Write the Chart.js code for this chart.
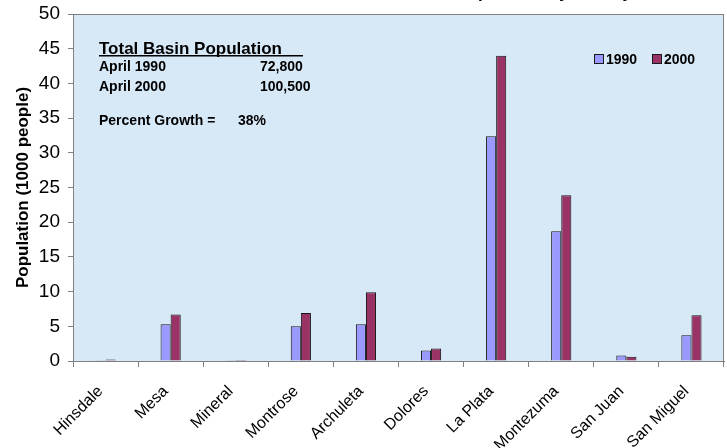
<!DOCTYPE html>
<html>
<head>
<meta charset="utf-8">
<title>Southwest Basin Population by County</title>
<script src="https://cdn.jsdelivr.net/npm/chart.js@4"></script>
<style>
    html, body { margin: 0; padding: 0; overflow: hidden; background: #ffffff; }
    #wrap { position: absolute; left: 0; top: -24px; width: 727px; height: 512px; }
</style>
</head>
<body>
<div id="wrap"><canvas id="popChart"></canvas></div>
<script>
const counties = ['Hinsdale', 'Mesa', 'Mineral', 'Montrose', 'Archuleta', 'Dolores', 'La Plata', 'Montezuma', 'San Juan', 'San Miguel'];
const pop1990 = [0.1, 5.3, 0.1, 5.0, 5.3, 1.5, 32.4, 18.7, 0.8, 3.7];
const pop2000 = [0.2, 6.7, 0.15, 6.9, 9.9, 1.8, 44.0, 23.9, 0.6, 6.6];
const yearLabels = ['1990', '2000'];

const chartTitle = 'Southwest Basin Population by County';

// text box in the upper left
const boxTitle = 'Total Basin Population';
const basinRows = [['April 1990', '72,800'], ['April 2000', '100,500']];
const growthLabel = 'Percent Growth =';
const growthValue = '38%';

const FONT = 'Arial, "Liberation Sans", sans-serif';
Chart.defaults.font.family = FONT;
Chart.defaults.color = '#000000';

// light blue plot background with grey frame
const plotBackground = {
    id: 'plotBackground',
    beforeDraw(chart) {
        const { ctx, chartArea: a } = chart;
        ctx.save();
        ctx.fillStyle = '#d7e8f7';
        ctx.fillRect(a.left, a.top, a.right - a.left, a.bottom - a.top);
        ctx.strokeStyle = '#808080';
        ctx.lineWidth = 1;
        ctx.strokeRect(a.left + 0.5, a.top + 0.5, a.right - a.left - 1, a.bottom - a.top);
        ctx.restore();
    }
};

// title (mostly above the visible area), notes box and legend
const chartText = {
    id: 'chartText',
    afterDatasetsDraw(chart) {
        const { ctx, chartArea: a } = chart;
        ctx.save();
        ctx.fillStyle = '#000000';
        ctx.textBaseline = 'alphabetic';

        ctx.font = 'bold 17px ' + FONT;
        ctx.textAlign = 'right';
        ctx.fillText(chartTitle, a.left + 559, a.top - 16);
        ctx.textAlign = 'left';

        const x = a.left + 26;
        ctx.fillText(boxTitle, x, a.top + 40);
        ctx.fillRect(x, a.top + 41, 204, 1.5);
        ctx.font = 'bold 14px ' + FONT;
        basinRows.forEach((row, i) => {
            ctx.fillText(row[0], x, a.top + 57 + i * 20);
            ctx.fillText(row[1], a.left + 187, a.top + 57 + i * 20);
        });
        ctx.fillText(growthLabel, x, a.top + 111);
        ctx.fillText(growthValue, a.left + 165, a.top + 111);

        // legend
        const lx = [a.right - 130, a.right - 72];
        chart.data.datasets.forEach((ds, i) => {
            ctx.fillStyle = ds.backgroundColor;
            ctx.fillRect(lx[i], a.top + 40, 10, 10);
            ctx.strokeStyle = '#1a1a1a';
            ctx.lineWidth = 1;
            ctx.strokeRect(lx[i] + 0.5, a.top + 40.5, 9, 9);
            ctx.fillStyle = '#000000';
            ctx.fillText(ds.label, lx[i] + 12, a.top + 50);
        });
        ctx.restore();
    }
};

new Chart(document.getElementById('popChart'), {
    type: 'bar',
    data: {
        labels: counties,
        datasets: [
            {
                label: yearLabels[0],
                data: pop1990,
                backgroundColor: '#9999ff',
                borderColor: '#141414',
                borderWidth: 1
            },
            {
                label: yearLabels[1],
                data: pop2000,
                backgroundColor: '#993366',
                borderColor: '#141414',
                borderWidth: 1
            }
        ]
    },
    options: {
        responsive: true,
        maintainAspectRatio: false,
        animation: false,
        layout: { padding: { left: 0, right: 3, top: 38, bottom: 0 } },
        datasets: {
            bar: { categoryPercentage: 0.31, barPercentage: 1.0 }
        },
        plugins: {
            legend: { display: false },
            tooltip: { enabled: false }
        },
        scales: {
            x: {
                afterFit(scale) { scale.height = 127; },
                grid: { display: true, drawOnChartArea: false, tickLength: 6, color: '#808080' },
                border: { display: true, color: '#808080' },
                ticks: {
                    autoSkip: false,
                    minRotation: 45,
                    maxRotation: 45,
                    padding: 15,
                    labelOffset: -5,
                    color: '#000000',
                    font: { size: 16 }
                }
            },
            y: {
                min: 0,
                max: 50,
                afterFit(scale) { scale.width = 73; },
                grid: { display: true, drawOnChartArea: false, tickLength: 5, color: '#808080' },
                border: { display: true, color: '#808080' },
                ticks: {
                    stepSize: 5,
                    padding: 8,
                    color: '#000000',
                    font: { size: 19 }
                },
                title: {
                    display: true,
                    text: 'Population (1000 people)',
                    color: '#000000',
                    font: { size: 17, weight: 'bold' },
                    padding: { top: 13, bottom: 4 }
                }
            }
        }
    },
    plugins: [plotBackground, chartText]
});
</script>
</body>
</html>
